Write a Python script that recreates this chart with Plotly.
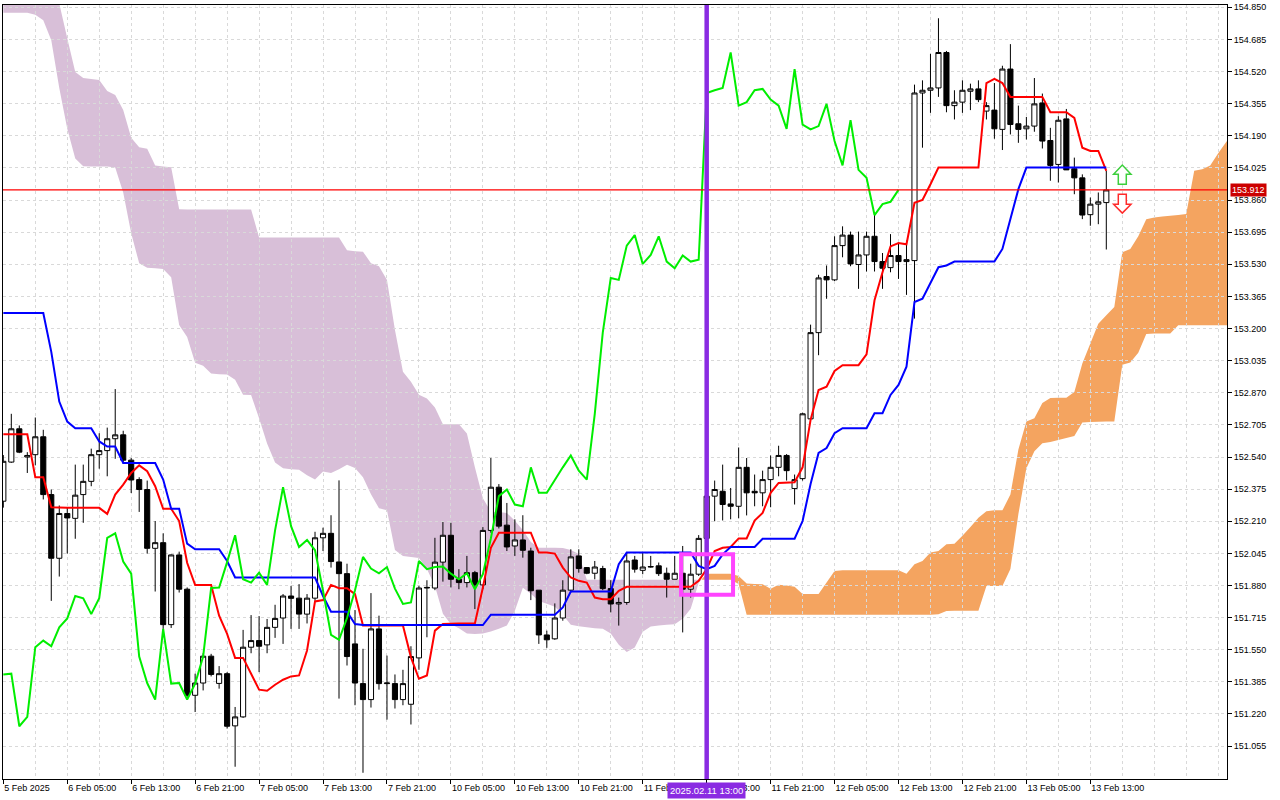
import plotly.graph_objects as go

# H1 chart with Ichimoku, bars are numbered so the weekend gap is skipped like in MT4
tick_bars = [0, 8, 16, 24, 32, 40, 48, 56, 64, 72, 80, 88, 96, 104, 112, 120, 128, 136]
tick_text = ["5 Feb 2025", "6 Feb 05:00", "6 Feb 13:00", "6 Feb 21:00", "7 Feb 05:00",
             "7 Feb 13:00", "7 Feb 21:00", "10 Feb 05:00", "10 Feb 13:00", "10 Feb 21:00",
             "11 Feb 05:00", "11 Feb 13:00", "11 Feb 21:00", "12 Feb 05:00", "12 Feb 13:00",
             "12 Feb 21:00", "13 Feb 05:00", "13 Feb 13:00"]
price_ticks = [151.055, 151.220, 151.385, 151.550, 151.715, 151.880, 152.045, 152.210,
               152.375, 152.540, 152.705, 152.870, 153.035, 153.200, 153.365, 153.530,
               153.695, 153.860, 154.025, 154.190, 154.355, 154.520, 154.685, 154.850]

opens = [
    152.313, 152.514, 152.685, 152.540, 152.552, 152.644, 152.347, 152.020, 152.250, 152.225,
    152.347, 152.415, 152.552, 152.573, 152.634, 152.654, 152.524, 152.424, 152.373, 152.071,
    152.100, 151.679, 152.037, 151.861, 151.316, 151.379, 151.517, 151.377, 151.427, 151.159,
    151.205, 151.563, 151.597, 151.575, 151.665, 151.713, 151.826, 151.815, 151.733, 151.815,
    152.125, 152.148, 152.001, 151.941, 151.580, 151.376, 151.294, 151.657, 151.376, 151.376,
    151.294, 151.270, 151.508, 151.867, 151.867, 152.000, 152.138, 151.912, 151.895, 151.946,
    151.883, 152.163, 152.385, 152.190, 152.083, 152.114, 152.057, 151.856, 151.626, 151.606,
    151.713, 151.856, 152.032, 151.972, 151.943, 151.967, 151.864, 151.785, 151.793, 152.011,
    151.958, 151.975, 151.981, 151.943, 151.912, 151.943, 151.861, 151.938, 152.122, 152.339,
    152.364, 152.299, 152.287, 152.487, 152.364, 152.356, 152.424, 152.487, 152.548, 152.378,
    152.429, 152.736, 153.179, 153.467, 153.450, 153.626, 153.680, 153.529, 153.578, 153.674,
    153.544, 153.513, 153.575, 153.544, 153.549, 154.410, 154.424, 154.436, 154.618, 154.345,
    154.363, 154.419, 154.431, 154.317, 154.322, 154.223, 154.533, 154.252, 154.226, 154.240,
    154.359, 154.166, 154.043, 154.277, 154.021, 153.974, 153.785, 153.839, 153.847]
highs = [
    152.550, 152.762, 152.702, 152.565, 152.743, 152.680, 152.373, 152.291, 152.279, 152.501,
    152.501, 152.583, 152.662, 152.691, 152.889, 152.675, 152.535, 152.436, 152.419, 152.211,
    152.148, 152.040, 152.054, 151.870, 151.427, 151.532, 151.529, 151.466, 151.435, 151.256,
    151.652, 151.728, 151.723, 151.708, 151.781, 151.836, 151.878, 151.887, 151.836, 152.156,
    152.177, 152.241, 152.420, 151.992, 151.754, 151.555, 151.841, 151.725, 151.520, 151.423,
    151.447, 151.568, 151.878, 151.907, 152.125, 152.206, 152.202, 151.964, 152.032, 151.955,
    152.180, 152.535, 152.401, 152.304, 152.220, 152.241, 152.074, 151.856, 151.648, 151.788,
    151.907, 152.066, 152.066, 151.975, 152.006, 151.981, 151.907, 151.818, 152.049, 152.032,
    152.049, 152.032, 151.998, 151.972, 152.032, 152.083, 151.992, 152.139, 152.400, 152.419,
    152.501, 152.381, 152.589, 152.535, 152.450, 152.470, 152.548, 152.598, 152.555, 152.450,
    152.768, 153.220, 153.476, 153.524, 153.674, 153.725, 153.698, 153.698, 153.698, 153.783,
    153.588, 153.685, 153.639, 153.652, 154.453, 154.475, 154.611, 154.794, 154.626, 154.424,
    154.475, 154.458, 154.475, 154.363, 154.461, 154.550, 154.661, 154.345, 154.287, 154.487,
    154.407, 154.231, 154.291, 154.328, 154.078, 153.992, 153.873, 153.899, 154.010]
lows = [
    152.280, 152.510, 152.560, 152.458, 152.497, 152.322, 151.801, 151.926, 152.044, 152.120,
    152.202, 152.390, 152.480, 152.441, 152.531, 152.506, 152.355, 152.258, 152.044, 151.849,
    151.657, 151.662, 151.844, 151.307, 151.230, 151.341, 151.413, 151.350, 151.145, 150.949,
    151.200, 151.532, 151.435, 151.532, 151.611, 151.580, 151.657, 151.657, 151.685, 151.801,
    152.057, 151.972, 151.299, 151.469, 151.265, 150.918, 151.253, 151.345, 151.191, 151.248,
    151.265, 151.166, 151.447, 151.614, 151.856, 151.900, 151.870, 151.861, 151.870, 151.759,
    151.861, 152.151, 152.173, 152.057, 152.032, 152.023, 151.805, 151.580, 151.560, 151.601,
    151.699, 151.844, 151.946, 151.938, 151.912, 151.856, 151.742, 151.674, 151.781, 151.946,
    151.938, 151.972, 151.929, 151.818, 151.912, 151.639, 151.818, 151.929, 152.100, 152.210,
    152.214, 152.220, 152.225, 152.240, 152.287, 152.287, 152.282, 152.441, 152.419, 152.296,
    152.419, 152.736, 153.063, 153.353, 153.444, 153.566, 153.520, 153.404, 153.493, 153.493,
    153.404, 153.489, 153.455, 153.373, 153.251, 154.129, 154.308, 154.390, 154.311, 154.274,
    154.308, 154.322, 154.363, 154.274, 154.175, 154.117, 154.197, 154.154, 154.171, 154.211,
    154.125, 153.959, 153.950, 154.015, 153.890, 153.762, 153.728, 153.736, 153.606]
closes = [
    152.518, 152.685, 152.565, 152.548, 152.644, 152.347, 152.020, 152.250, 152.227, 152.344,
    152.415, 152.552, 152.573, 152.634, 152.654, 152.524, 152.422, 152.373, 152.071, 152.100,
    151.679, 152.037, 151.861, 151.316, 151.379, 151.517, 151.423, 151.427, 151.157, 151.205,
    151.563, 151.597, 151.568, 151.665, 151.711, 151.826, 151.814, 151.733, 151.815, 152.125,
    152.148, 152.003, 151.941, 151.515, 151.379, 151.294, 151.657, 151.376, 151.379, 151.294,
    151.376, 151.515, 151.867, 151.870, 152.000, 152.138, 151.912, 151.895, 151.946, 151.883,
    152.163, 152.385, 152.185, 152.078, 152.114, 152.061, 151.853, 151.626, 151.601, 151.713,
    151.856, 152.027, 151.967, 151.943, 151.975, 151.864, 151.785, 151.793, 152.006, 151.964,
    151.975, 151.977, 151.941, 151.912, 151.943, 151.861, 151.938, 152.122, 152.339, 152.373,
    152.296, 152.287, 152.487, 152.356, 152.356, 152.424, 152.487, 152.548, 152.470, 152.424,
    152.762, 153.179, 153.460, 153.450, 153.626, 153.680, 153.532, 153.578, 153.674, 153.544,
    153.510, 153.575, 153.544, 153.554, 154.410, 154.424, 154.436, 154.618, 154.345, 154.363,
    154.424, 154.431, 154.376, 154.345, 154.226, 154.533, 154.248, 154.223, 154.240, 154.354,
    154.163, 154.038, 154.270, 154.015, 153.974, 153.783, 153.839, 153.851, 153.912]

tenkan = [
    152.657, 152.657, 152.657, 152.657, 152.436, 152.436, 152.282, 152.279, 152.279, 152.279,
    152.279, 152.279, 152.279, 152.248, 152.347, 152.398, 152.458, 152.497, 152.467, 152.390,
    152.274, 152.274, 152.211, 151.997, 151.882, 151.882, 151.882, 151.725, 151.631, 151.508,
    151.508, 151.427, 151.345, 151.339, 151.370, 151.396, 151.413, 151.418, 151.546, 151.798,
    151.805, 151.883, 151.866, 151.866, 151.836, 151.674, 151.674, 151.674, 151.674, 151.674,
    151.674, 151.511, 151.401, 151.418, 151.648, 151.682, 151.685, 151.685, 151.685, 151.685,
    151.870, 152.074, 152.151, 152.151, 152.151, 152.151, 152.151, 152.049, 152.049, 152.044,
    151.972, 151.921, 151.904, 151.895, 151.818, 151.810, 151.810, 151.853, 151.873, 151.873,
    151.873, 151.873, 151.873, 151.873, 151.873, 151.873, 151.873, 151.904, 151.964, 152.057,
    152.074, 152.078, 152.122, 152.122, 152.214, 152.253, 152.356, 152.407, 152.410, 152.410,
    152.487, 152.731, 152.884, 152.901, 152.982, 153.012, 153.012, 153.012, 153.067, 153.345,
    153.489, 153.622, 153.639, 153.633, 153.846, 153.861, 153.941, 154.027, 154.027, 154.027,
    154.027, 154.027, 154.027, 154.461, 154.482, 154.461, 154.390, 154.390, 154.390, 154.390,
    154.390, 154.311, 154.311, 154.311, 154.282, 154.129, 154.112, 154.112, 154.010]
kijun = [
    153.280, 153.280, 153.280, 153.280, 153.280, 153.280, 153.080, 152.825, 152.722, 152.688,
    152.688, 152.688, 152.620, 152.594, 152.594, 152.509, 152.509, 152.509, 152.509, 152.509,
    152.424, 152.274, 152.274, 152.095, 152.066, 152.066, 152.066, 152.066, 152.006, 151.921,
    151.921, 151.921, 151.921, 151.921, 151.921, 151.921, 151.921, 151.921, 151.921, 151.921,
    151.826, 151.745, 151.745, 151.745, 151.682, 151.677, 151.677, 151.677, 151.677, 151.677,
    151.677, 151.677, 151.677, 151.677, 151.677, 151.677, 151.677, 151.677, 151.677, 151.677,
    151.677, 151.730, 151.730, 151.730, 151.730, 151.730, 151.730, 151.730, 151.730, 151.730,
    151.767, 151.849, 151.849, 151.849, 151.849, 151.849, 151.849, 151.989, 152.049, 152.049,
    152.049, 152.049, 152.049, 152.049, 152.049, 152.049, 152.049, 151.981, 151.964, 151.981,
    152.040, 152.078, 152.078, 152.078, 152.078, 152.120, 152.120, 152.120, 152.120, 152.120,
    152.211, 152.401, 152.561, 152.586, 152.662, 152.688, 152.688, 152.688, 152.688, 152.765,
    152.765, 152.859, 152.910, 153.004, 153.336, 153.353, 153.430, 153.515, 153.524, 153.544,
    153.544, 153.544, 153.544, 153.544, 153.544, 153.609, 153.762, 153.916, 154.027, 154.027,
    154.027, 154.027, 154.027, 154.027, 154.027, 154.027, 154.027, 154.027, 154.027]

# senkou spans as drawn (already shifted 26 bars forward), bars 0..154
span_a = [
    154.822, 154.822, 154.822, 154.822, 154.812, 154.784, 154.681, 154.436, 154.226, 154.073,
    154.034, 154.032, 154.032, 154.032, 154.027, 153.899, 153.689, 153.535, 153.512, 153.510,
    153.506, 153.464, 153.218, 153.157, 153.024, 153.009, 152.969, 152.965, 152.964, 152.937,
    152.860, 152.859, 152.739, 152.610, 152.512, 152.482, 152.477, 152.475, 152.446, 152.425,
    152.466, 152.458, 152.477, 152.500, 152.484, 152.436, 152.349, 152.277, 152.267, 152.062,
    152.032, 152.027, 152.021, 151.965, 151.878, 151.735, 151.681, 151.661, 151.633, 151.631,
    151.633, 151.644, 151.658, 151.674, 151.750, 151.868, 151.837, 151.801, 151.786, 151.771,
    151.730, 151.679, 151.671, 151.665, 151.661, 151.658, 151.633, 151.576, 151.538, 151.561,
    151.643, 151.669, 151.674, 151.679, 151.681, 151.709, 151.760, 151.894, 151.940, 151.940,
    151.940, 151.940, 151.929, 151.890, 151.888, 151.887, 151.863, 151.884, 151.880, 151.873,
    151.836, 151.836, 151.836, 151.895, 151.955, 151.958, 151.958, 151.958, 151.958, 151.958,
    151.958, 151.958, 151.958, 151.941, 151.989, 152.006, 152.049, 152.057, 152.092, 152.095,
    152.136, 152.180, 152.228, 152.262, 152.266, 152.266, 152.347, 152.578, 152.722, 152.739,
    152.818, 152.843, 152.845, 152.845, 152.874, 153.020, 153.123, 153.225, 153.268, 153.310,
    153.592, 153.609, 153.674, 153.762, 153.771, 153.776, 153.780, 153.783, 153.788, 154.010,
    154.018, 154.038, 154.100, 154.158, 154.216]
span_b = [
    155.050, 155.050, 155.050, 155.050, 155.050, 155.050, 155.020, 154.870, 154.691, 154.518,
    154.487, 154.482, 154.477, 154.420, 154.400, 154.323, 154.180, 154.131, 154.124, 154.037,
    154.032, 154.029, 153.813, 153.812, 153.812, 153.812, 153.812, 153.812, 153.812, 153.812,
    153.812, 153.812, 153.668, 153.668, 153.668, 153.668, 153.668, 153.668, 153.668, 153.668,
    153.668, 153.668, 153.668, 153.602, 153.597, 153.595, 153.535, 153.520, 153.449, 153.193,
    152.978, 152.927, 152.860, 152.840, 152.794, 152.708, 152.708, 152.708, 152.661, 152.487,
    152.328, 152.259, 152.257, 152.253, 152.213, 152.165, 152.103, 152.074, 152.074, 152.074,
    152.073, 152.062, 152.042, 151.909, 151.909, 151.909, 151.909, 151.909, 151.909, 151.909,
    151.909, 151.909, 151.909, 151.909, 151.909, 151.909, 151.909, 151.909, 151.909, 151.909,
    151.909, 151.909, 151.888, 151.730, 151.730, 151.730, 151.730, 151.730, 151.730, 151.730,
    151.730, 151.730, 151.730, 151.730, 151.730, 151.730, 151.730, 151.730, 151.730, 151.730,
    151.730, 151.730, 151.730, 151.730, 151.730, 151.730, 151.730, 151.732, 151.749, 151.750,
    151.750, 151.750, 151.750, 151.877, 151.878, 151.878, 151.965, 152.247, 152.482, 152.569,
    152.611, 152.617, 152.628, 152.638, 152.648, 152.717, 152.720, 152.721, 152.722, 152.722,
    153.014, 153.026, 153.075, 153.172, 153.174, 153.174, 153.174, 153.217, 153.217, 153.217,
    153.217, 153.217, 153.217, 153.217, 153.217]

last_price = 153.912
marker_bar = 88
CHIKOU_SHIFT = 26

bars = list(range(len(closes)))
FONT = "Liberation Sans, Arial, sans-serif"
GRID = "#d9d9d9"


def cloud_pieces(a, b):
    # split the cloud where span A crosses span B so each part gets its colour
    pieces = []
    up = a[0] > b[0]
    xs, ya, yb = [0], [a[0]], [b[0]]
    for i in range(1, len(a)):
        now = a[i] > b[i]
        if now != up:
            d0, d1 = a[i - 1] - b[i - 1], a[i] - b[i]
            t = d0 / (d0 - d1)
            xc = i - 1 + t
            yc = a[i - 1] + t * (a[i] - a[i - 1])
            xs.append(xc); ya.append(yc); yb.append(yc)
            pieces.append((up, xs, ya, yb))
            xs, ya, yb = [xc], [yc], [yc]
            up = now
        xs.append(i); ya.append(a[i]); yb.append(b[i])
    pieces.append((up, xs, ya, yb))
    return pieces


shapes = []
for up, xs, ya, yb in cloud_pieces(span_a, span_b):
    pts = list(zip(xs, ya)) + list(zip(xs[::-1], yb[::-1]))
    path = "M " + " L ".join(f"{x:.3f},{y:.4f}" for x, y in pts) + " Z"
    shapes.append(dict(type="path", path=path, xref="x", yref="y", layer="below",
                       fillcolor="#f4a460" if up else "#d8bfd8", line=dict(width=0)))

fig = go.Figure()
fig.add_trace(go.Candlestick(
    x=bars, open=opens, high=highs, low=lows, close=closes,
    increasing=dict(line=dict(color="black", width=1), fillcolor="white"),
    decreasing=dict(line=dict(color="black", width=1), fillcolor="black"),
    whiskerwidth=0, hoverinfo="skip", showlegend=False))
fig.add_trace(go.Scatter(x=bars, y=tenkan, mode="lines", line=dict(color="#ff0000", width=2),
                         hoverinfo="skip", showlegend=False))
fig.add_trace(go.Scatter(x=bars, y=kijun, mode="lines", line=dict(color="#0000ff", width=2),
                         hoverinfo="skip", showlegend=False))
fig.add_trace(go.Scatter(x=bars[:len(closes) - CHIKOU_SHIFT], y=closes[CHIKOU_SHIFT:], mode="lines",
                         line=dict(color="#00ee00", width=2), hoverinfo="skip", showlegend=False))

# current price line, marker line, box and arrows
shapes.append(dict(type="line", xref="paper", x0=0, x1=1, yref="y", y0=last_price, y1=last_price,
                   line=dict(color="#ff0000", width=1.3), layer="above"))
shapes.append(dict(type="line", xref="x", x0=marker_bar, x1=marker_bar, yref="paper", y0=0, y1=1,
                   line=dict(color="#8a2be2", width=4.5), layer="above"))
shapes.append(dict(type="rect", xref="x", yref="y", x0=84.8, x1=91.3, y0=151.832, y1=152.040,
                   line=dict(color="#ff44ff", width=4), fillcolor="rgba(0,0,0,0)", layer="above"))
ax = 140.0
up_arrow = (f"M {ax - 0.5},153.941 L {ax - 0.5},153.992 L {ax - 1.09},153.992 L {ax},154.040 "
            f"L {ax + 1.09},153.992 L {ax + 0.5},153.992 L {ax + 0.5},153.941 Z")
dn_arrow = (f"M {ax - 0.5},153.890 L {ax - 0.5},153.839 L {ax - 1.09},153.839 L {ax},153.793 "
            f"L {ax + 1.09},153.839 L {ax + 0.5},153.839 L {ax + 0.5},153.890 Z")
shapes.append(dict(type="path", path=up_arrow, xref="x", yref="y", fillcolor="white",
                   line=dict(color="#3ccf3c", width=1.5), layer="above"))
shapes.append(dict(type="path", path=dn_arrow, xref="x", yref="y", fillcolor="white",
                   line=dict(color="#ff2a2a", width=1.5), layer="above"))

annotations = [
    dict(text=f"{last_price:.3f}", xref="paper", x=1, xanchor="left", xshift=3,
         yref="y", y=last_price, yanchor="middle", showarrow=False, bgcolor="#cc0000",
         font=dict(family=FONT, size=9, color="white"), borderpad=1),
    dict(text="2025.02.11 13:00", xref="x", x=marker_bar, xanchor="center",
         yref="paper", y=0, yanchor="top", yshift=-3, showarrow=False, bgcolor="#8a2be2",
         font=dict(family=FONT, size=9.5, color="white"), borderpad=2),
]

fig.update_layout(
    width=1280, height=800,
    margin=dict(l=2, r=53, t=2, b=21),
    paper_bgcolor="white", plot_bgcolor="white",
    showlegend=False, hovermode=False,
    boxgap=0.2, boxgroupgap=0.2,
    font=dict(family=FONT, size=9, color="black"),
    shapes=shapes, annotations=annotations,
    xaxis=dict(range=[-0.04, 153.1], tickvals=tick_bars, ticktext=tick_text,
               ticks="outside", ticklen=4, tickcolor="black", ticklabelposition="outside right",
               showline=True, linecolor="black", linewidth=1, mirror=True,
               showgrid=True, gridcolor=GRID, griddash="3px,3px", gridwidth=1,
               minor=dict(dtick=4, tick0=0, showgrid=True, gridcolor=GRID, griddash="3px,3px", ticks=""),
               zeroline=False, rangeslider=dict(visible=False), tickfont=dict(size=9)),
    yaxis=dict(side="right", range=[150.886, 154.862], tickvals=price_ticks,
               ticktext=[f"{p:.3f}" for p in price_ticks], ticklabeloverflow="allow",
               ticks="outside", ticklen=4, tickcolor="black",
               showline=True, linecolor="black", linewidth=1, mirror=True,
               showgrid=True, gridcolor=GRID, griddash="3px,3px", gridwidth=1,
               zeroline=False, tickfont=dict(size=9)),
)

fig.write_html("out.html", config=dict(displayModeBar=False),
               post_script="document.body.style.margin='0';document.body.style.overflow='hidden';")
